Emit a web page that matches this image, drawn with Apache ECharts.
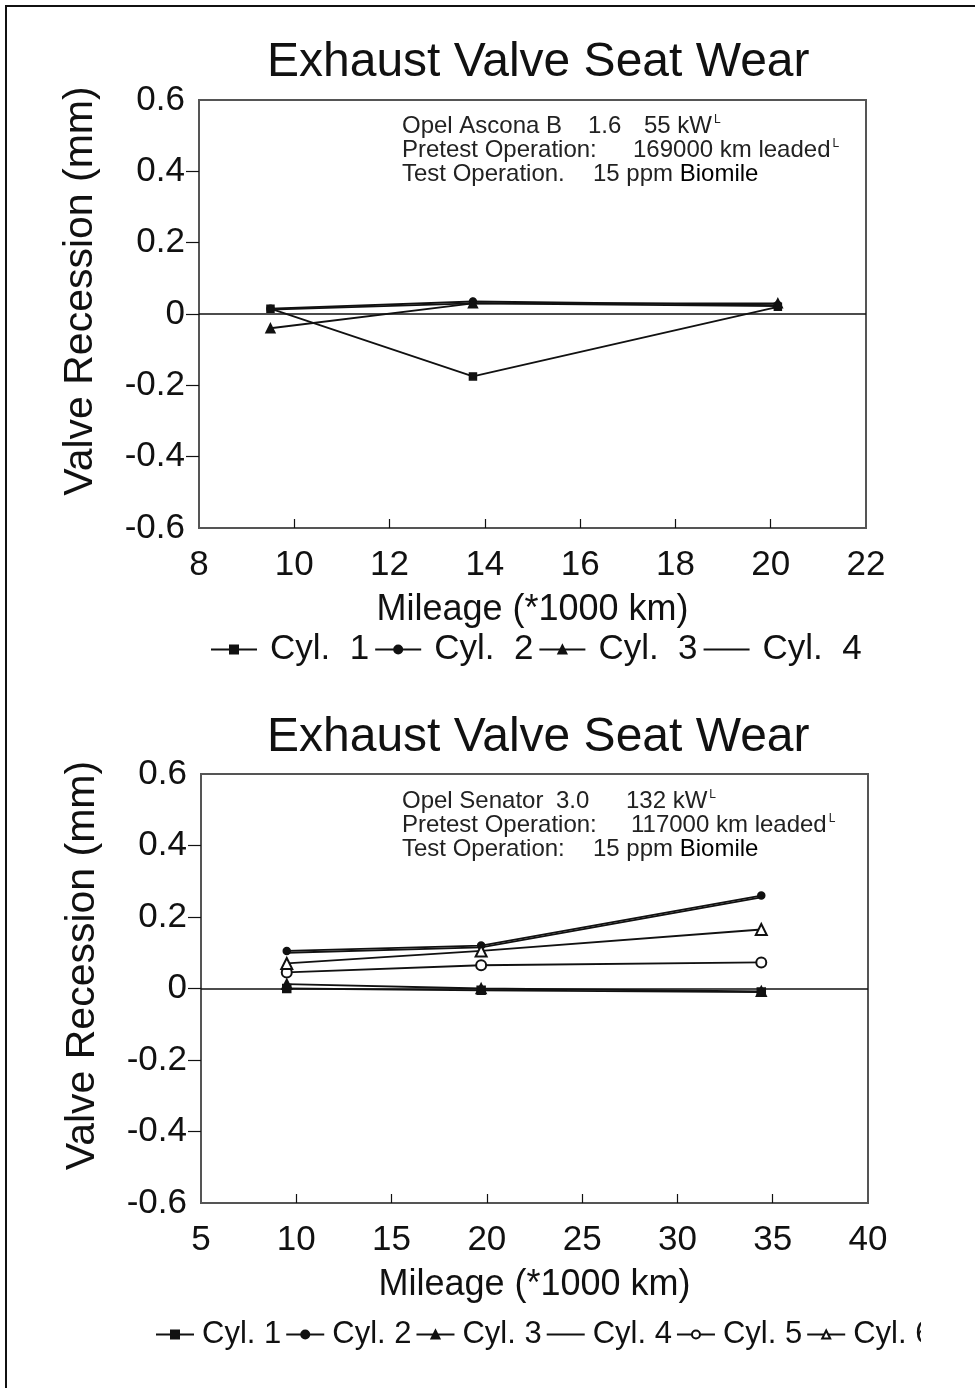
<!DOCTYPE html>
<html>
<head>
<meta charset="utf-8">
<script src="https://cdn.jsdelivr.net/npm/echarts@6/dist/echarts.min.js"></script>
<style>
  html, body { margin: 0; padding: 0; background: #fff; }
  #chart { width: 975px; height: 1388px; }
  #frame { position: absolute; left: 5px; top: 5px; width: 980px; height: 1400px;
           border-left: 2px solid #111; border-top: 2px solid #111; pointer-events: none; }
</style>
</head>
<body>
<div id="chart"></div>
<div id="frame"></div>
<script>
// upper panel: Opel Ascona B
const topMileage = [9.5, 13.75, 20.15]
const topCyl1 = [0.015, -0.175, 0.02]
const topCyl2 = [0.015, 0.035, 0.025]
const topCyl3 = [-0.04, 0.03, 0.03]
const topCyl4 = [0.012, 0.03, 0.022]
const topXTicks = [8, 10, 12, 14, 16, 18, 20, 22]

// lower panel: Opel Senator
const lowMileage = [9.5, 19.7, 34.4]
const lowCyl1 = [0.0, -0.005, -0.01]
const lowCyl2 = [0.105, 0.12, 0.26]
const lowCyl3 = [0.012, 0.0, -0.008]
const lowCyl4 = [0.1, 0.115, 0.255]
const lowCyl5 = [0.045, 0.065, 0.073]
const lowCyl6 = [0.07, 0.105, 0.165]
const lowXTicks = [5, 10, 15, 20, 25, 30, 35, 40]

const yTicks = [-0.6, -0.4, -0.2, 0, 0.2, 0.4, 0.6]

const topNames = ["Cyl.  1", "Cyl.  2", "Cyl.  3", "Cyl.  4"]
const lowNames = ["Cyl. 1", "Cyl. 2", "Cyl. 3", "Cyl. 4", "Cyl. 5", "Cyl. 6"]

const chart = echarts.init(document.getElementById("chart"), null, { renderer: "canvas" })

const font = "Liberation Sans, Arial, sans-serif"
const ink = "#111"
const frameColor = "#555"

const pairs = (xs, ys) => xs.map((x, i) => [x, ys[i]])

const zeroLine = {
  silent: true,
  symbol: "none",
  label: { show: false },
  lineStyle: { color: ink, width: 1.5, type: "solid" },
  data: [{ yAxis: 0 }],
}

const mkSeries = (name, xs, ys, symbol, size, axis, withZero) => ({
  name,
  type: "line",
  xAxisIndex: axis,
  yAxisIndex: axis,
  data: pairs(xs, ys),
  symbol,
  symbolSize: size,
  showSymbol: symbol !== "none",
  color: ink,
  itemStyle: { color: ink, borderColor: ink, borderWidth: 1.5 },
  lineStyle: { color: ink, width: 1.8 },
  markLine: withZero ? zeroLine : undefined,
  animation: false,
  z: 3,
})

const yAxis = (idx) => ({
  type: "value",
  gridIndex: idx,
  min: -0.6,
  max: 0.6,
  interval: 0.2,
  name: "Valve Recession (mm)",
  nameLocation: "middle",
  nameGap: 98,
  nameTextStyle: { fontFamily: font, fontSize: 41, color: ink, padding: [0, 0, 0, 46] },
  axisLine: { show: false, onZero: false },
  axisTick: {
    show: true,
    length: 13,
    customValues: [-0.4, -0.2, 0, 0.2, 0.4],
    lineStyle: { color: ink, width: 1.2 },
  },
  axisLabel: {
    customValues: yTicks,
    margin: 14,
    fontFamily: font,
    fontSize: 35,
    color: ink,
    formatter: (v) => (Math.abs(v) < 1e-9 ? "0" : v.toFixed(1)),
  },
  splitLine: { show: false },
})

const xAxis = (idx, min, max, step, ticks) => ({
  type: "value",
  gridIndex: idx,
  min,
  max,
  interval: step,
  name: "Mileage (*1000 km)",
  nameLocation: "middle",
  nameGap: 64,
  nameTextStyle: { fontFamily: font, fontSize: 36, color: ink },
  axisLine: { show: false, onZero: false },
  axisTick: {
    show: true,
    inside: true,
    length: 9,
    customValues: ticks.slice(1, -1),
    lineStyle: { color: ink, width: 1.2 },
  },
  axisLabel: {
    customValues: ticks,
    margin: 20,
    fontFamily: font,
    fontSize: 35,
    color: ink,
  },
  splitLine: { show: false },
})

const noteStyle = {
  fontFamily: font,
  fontSize: 24,
  fontWeight: "normal",
  color: "#222",
  lineHeight: 24,
}
const sup = { fontFamily: font, fontSize: 12, fontWeight: "normal", color: "#222", verticalAlign: "top", lineHeight: 24, padding: [0, 0, 10, 2] }
const bio = { ...noteStyle, color: "#000" }

const legendItems = (names, lineOnly) =>
  names.map((n) => (n === lineOnly ? { name: n, itemStyle: { opacity: 0 } } : { name: n }))

const option = {
  animation: false,
  backgroundColor: "#fff",
  title: [
    {
      text: "Exhaust Valve Seat Wear",
      left: 262,
      top: 34,
      textStyle: { fontFamily: font, fontSize: 48, fontWeight: "normal", color: ink },
    },
    {
      text: "Exhaust Valve Seat Wear",
      left: 262,
      top: 709,
      textStyle: { fontFamily: font, fontSize: 48, fontWeight: "normal", color: ink },
    },
    {
      text:
        "{a|Opel Ascona B}{b|1.6}{n|55 kW}{s|L}\n" +
        "{p|Pretest Operation:}{n|169000 km leaded}{s|L}\n" +
        "{t|Test Operation.}{n|15 ppm }{d|Biomile}",
      left: 397,
      top: 109,
      textStyle: {
        ...noteStyle,
        rich: {
          a: { ...noteStyle, width: 186 },
          b: { ...noteStyle, width: 56 },
          p: { ...noteStyle, width: 231 },
          t: { ...noteStyle, width: 191 },
          n: { ...noteStyle },
          d: bio,
          s: sup,
        },
      },
    },
    {
      text:
        "{a|Opel Senator}{b|3.0}{n|132 kW}{s|L}\n" +
        "{p|Pretest Operation:}{n|117000 km leaded}{s|L}\n" +
        "{t|Test Operation:}{n|15 ppm }{d|Biomile}",
      left: 397,
      top: 784,
      textStyle: {
        ...noteStyle,
        rich: {
          a: { ...noteStyle, width: 154 },
          b: { ...noteStyle, width: 70 },
          p: { ...noteStyle, width: 229 },
          t: { ...noteStyle, width: 191 },
          n: { ...noteStyle },
          d: bio,
          s: sup,
        },
      },
    },
  ],
  legend: [
    {
      data: legendItems(topNames, "Cyl.  4"),
      left: 205,
      top: 627,
      width: 900,
      itemWidth: 46,
      itemHeight: 10,
      itemGap: 5,
      textStyle: { fontFamily: font, fontSize: 35, color: ink, padding: [0, 0, 0, 8] },
      selectedMode: false,
    },
    {
      data: legendItems(lowNames, "Cyl. 4"),
      left: 150,
      top: 1314,
      width: 1200,
      itemWidth: 38,
      itemHeight: 10,
      itemGap: 4,
      textStyle: { fontFamily: font, fontSize: 31, color: ink, padding: [0, 0, 0, 3] },
      selectedMode: false,
    },
  ],
  grid: [
    { left: 199, top: 100, width: 667, height: 428, show: true, borderColor: frameColor, borderWidth: 2, backgroundColor: "transparent" },
    { left: 201, top: 774, width: 667, height: 429, show: true, borderColor: frameColor, borderWidth: 2, backgroundColor: "transparent" },
  ],
  xAxis: [xAxis(0, 8, 22, 2, topXTicks), xAxis(1, 5, 40, 5, lowXTicks)],
  yAxis: [yAxis(0), yAxis(1)],
  graphic: [
    {
      type: "rect",
      left: 921,
      top: 1300,
      z: 100,
      shape: { width: 54, height: 70 },
      style: { fill: "#fff" },
    },
  ],
  series: [
    mkSeries(topNames[0], topMileage, topCyl1, "rect", 7, 0, true),
    mkSeries(topNames[1], topMileage, topCyl2, "circle", 7, 0, false),
    mkSeries(topNames[2], topMileage, topCyl3, "triangle", 9, 0, false),
    mkSeries(topNames[3], topMileage, topCyl4, "none", 0, 0, false),
    mkSeries(lowNames[0], lowMileage, lowCyl1, "rect", 8, 1, true),
    mkSeries(lowNames[1], lowMileage, lowCyl2, "circle", 7, 1, false),
    mkSeries(lowNames[2], lowMileage, lowCyl3, "triangle", 10, 1, false),
    mkSeries(lowNames[3], lowMileage, lowCyl4, "none", 0, 1, false),
    mkSeries(lowNames[4], lowMileage, lowCyl5, "emptyCircle", 10, 1, false),
    mkSeries(lowNames[5], lowMileage, lowCyl6, "emptyTriangle", 11, 1, false),
  ],
}

chart.setOption(option)
</script>
</body>
</html>
